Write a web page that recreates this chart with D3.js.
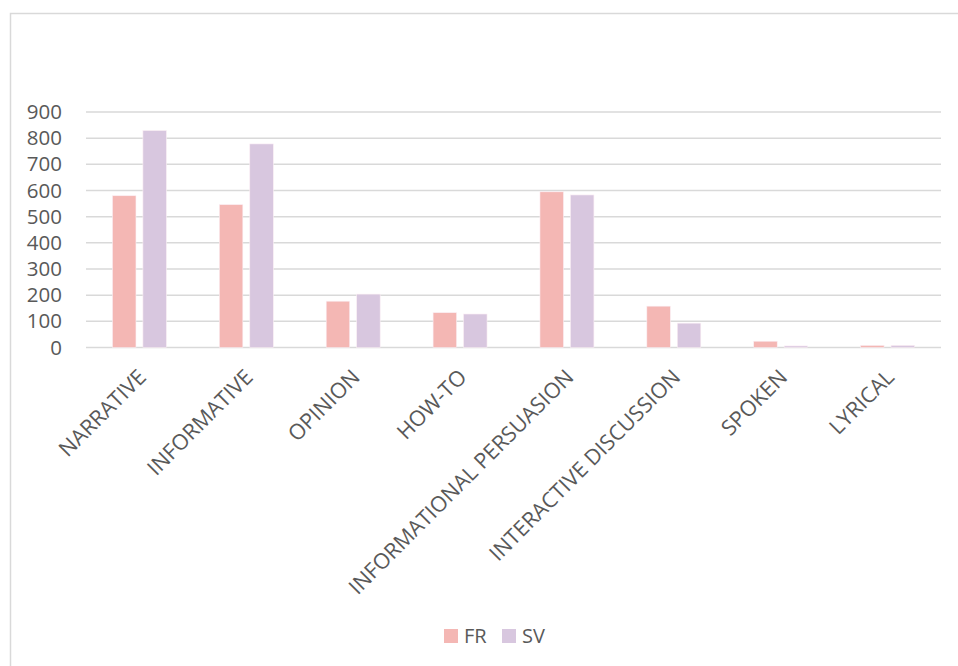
<!DOCTYPE html>
<html>
<head>
<meta charset="utf-8">
<script src="https://cdn.jsdelivr.net/npm/d3@7/dist/d3.min.js"></script>
<style>
  html, body { margin: 0; padding: 0; background: #fff; }
  svg { display: block; }
  text { font-family: "Open Sans", "Noto Sans", sans-serif; fill: #595959; }
</style>
</head>
<body>
<svg id="chart" width="958" height="666"></svg>
<script>
// Text genres counted per language
const categories = ["NARRATIVE", "INFORMATIVE", "OPINION", "HOW-TO",
  "INFORMATIONAL PERSUASION", "INTERACTIVE DISCUSSION", "SPOKEN", "LYRICAL"];
const seriesNames = ["FR", "SV"];
const frValues = [580, 546, 177, 133, 595, 158, 24, 8];
const svValues = [829, 778, 204, 128, 583, 93, 6, 8];
const yTicks = [0, 100, 200, 300, 400, 500, 600, 700, 800, 900];
const colors = { FR: "#f4b7b4", SV: "#d8c7df" };

const svg = d3.select("#chart");

// outer chart frame
svg.append("rect")
  .attr("x", 10.5).attr("y", 13.5)
  .attr("width", 960).attr("height", 700)
  .attr("fill", "none").attr("stroke", "#d9d9d9").attr("stroke-width", 1.5);

const plotLeft = 86, plotRight = 941, plotTop = 112, plotBottom = 347.5;

const x = d3.scaleBand().domain(categories).range([plotLeft, plotRight]).paddingInner(0).paddingOuter(0);
const y = d3.scaleLinear().domain([0, 900]).range([plotBottom, plotTop]);

// horizontal gridlines
svg.append("g").selectAll("line").data(yTicks).join("line")
  .attr("x1", plotLeft).attr("x2", plotRight)
  .attr("y1", d => y(d)).attr("y2", d => y(d))
  .attr("stroke", "#d9d9d9").attr("stroke-width", 1.5);

// y axis labels
const yAxis = d3.axisLeft(y).tickValues(yTicks).tickSize(0).tickPadding(0);
const yg = svg.append("g").attr("transform", `translate(62,0)`).call(yAxis);
yg.select(".domain").remove();
yg.selectAll("text").attr("font-size", 20.5).attr("fill", "#595959")
  .style("font-family", '"Open Sans", sans-serif');

// grouped bars
const step = x.bandwidth();
const barW = step * 0.22;
const gapW = step * 0.065;
const data = categories.map((c, i) => ({ c, FR: frValues[i], SV: svValues[i] }));
const inner = d3.scaleOrdinal().domain(seriesNames)
  .range([-(barW + gapW / 2), gapW / 2]);

const groups = svg.append("g").selectAll("g").data(data).join("g")
  .attr("transform", d => `translate(${x(d.c) + step / 2},0)`);
groups.selectAll("rect").data(d => seriesNames.map(s => ({ s, v: d[s] }))).join("rect")
  .attr("x", d => inner(d.s))
  .attr("width", barW)
  .attr("y", d => y(d.v))
  .attr("height", d => y(0) - y(d.v))
  .attr("fill", d => colors[d.s])
  .attr("stroke", "#fbeef4").attr("stroke-width", 0.6);

// rotated category labels
svg.append("g").selectAll("text").data(categories).join("text")
  .attr("transform", d => `translate(${x(d) + step / 2 + 8},${plotBottom + 31}) rotate(-45)`)
  .attr("text-anchor", "end")
  .attr("font-size", 21.5)
  .text(d => d);

// legend
const legend = svg.append("g").attr("transform", "translate(444,629)");
const items = legend.selectAll("g").data(seriesNames).join("g")
  .attr("transform", (d, i) => `translate(${i * 58},0)`);
items.append("rect").attr("width", 14).attr("height", 14).attr("fill", d => colors[d]);
items.append("text").attr("x", 20).attr("y", 14).attr("font-size", 20).text(d => d);
</script>
</body>
</html>
